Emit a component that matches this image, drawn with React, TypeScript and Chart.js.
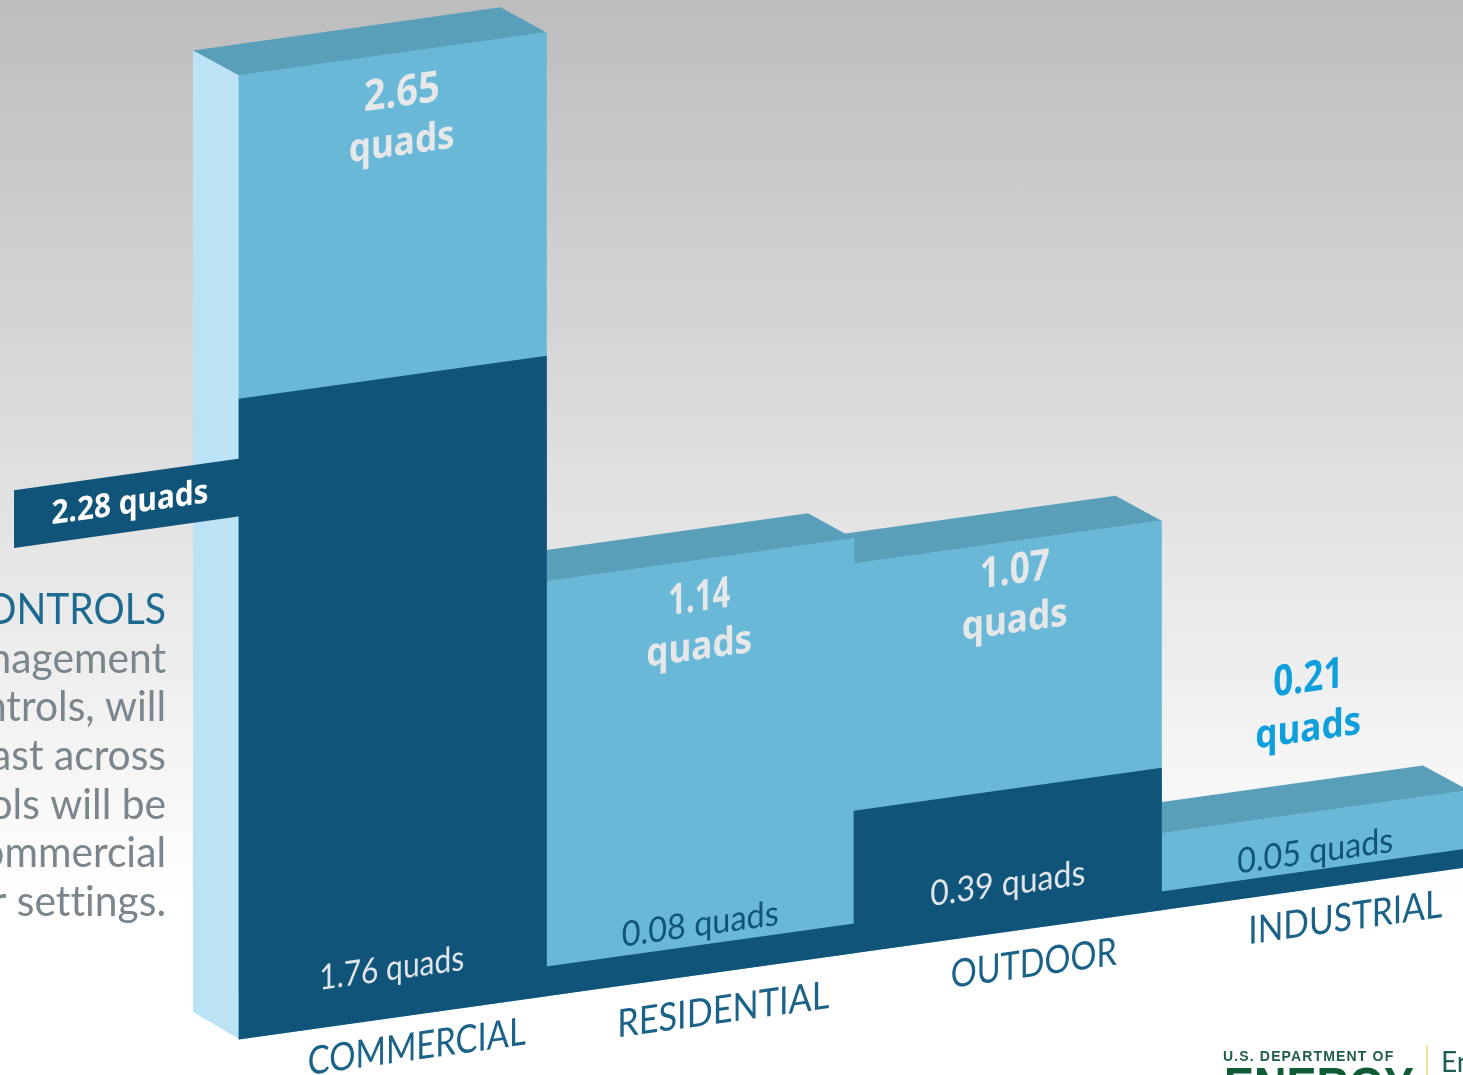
import React, { useEffect, useRef } from "react";
import { Chart, registerables } from "chart.js";

Chart.register(...registerables);

// ---- data ----
const categories = ["COMMERCIAL", "RESIDENTIAL", "OUTDOOR", "INDUSTRIAL"];
const totalQuads = [2.65, 1.14, 1.07, 0.21];
const partQuads = [1.76, 0.08, 0.39, 0.05];
const calloutQuads = 2.28;
const headingLine = "CONTROLS";
const bodyLines = ["management", "controls, will", "forecast across", "tools will be", "commercial", "outdoor settings."];

// ---- style / layout ----
const DARK = "#10547a";
const LIGHT = "#69b8d8";
const TOPFACE = "#5a9fb9";
const SIDE = "#bbe3f5";
const SHEAR = -0.14;
const ORIGIN_X = 239;
const W = 1500;
const H = 1075;
const DEPTH_X = -46;
const DEPTH_TOP = -31.5;
const DEPTH_BOTTOM = -33.5;
// per-bar tweaks, [dx, dy1, dy2, maxWidth of value]
const topLabelLayout = [
  [9, 41, 91, 76],
  [-1, 38.5, 88, 62],
  [7, 30, 80, 70],
  [-7, -133.5, -83, 70],
];
const partLabelLayout = [
  [-1, -49, 145, "#dfe5ea"],
  [0, -50, 157, DARK],
  [0, -47.5, 155, "#dfe5ea"],
  [0, -37, 156, DARK],
];
const axisLabelLayout = [
  [24, 33, 218],
  [23, 39, 212],
  [26, 36, 166],
  [30, 34, 194],
];

const skewPlugin = {
  id: "skew3d",
  beforeDraw(chart: any) {
    const ctx = chart.ctx;
    ctx.save();
    ctx.textBaseline = "middle";
    ctx.textAlign = "right";
    (ctx as any).textRendering = "optimizeSpeed";
    ctx.fillStyle = "#1d6a90";
    ctx.font = '400 42px Lato';
    ctx.fillText(headingLine, 166, 610, ctx.measureText(headingLine).width * 0.93);
    ctx.fillStyle = "#7b868c";
    ctx.font = '400 42px Lato';
    bodyLines.forEach((t, i) => ctx.fillText(t, 166, 659 + i * 48.7, ctx.measureText(t).width * 0.97));
    ctx.restore();
  },
  beforeDatasetsDraw(chart: any) {
    const ctx = chart.ctx;
    const xs = chart.scales.x;
    const ys = chart.scales.y;
    ctx.save();
    ctx.transform(1, SHEAR, 0, 1, 0, -SHEAR * ORIGIN_X);
    const half = (xs.getPixelForValue(1) - xs.getPixelForValue(0)) / 2;
    // top faces, back to front (right to left)
    for (let i = categories.length - 1; i >= 0; i--) {
      const c = xs.getPixelForValue(i);
      const t = ys.getPixelForValue(totalQuads[i]);
      ctx.fillStyle = TOPFACE;
      ctx.beginPath();
      ctx.moveTo(c - half, t);
      ctx.lineTo(c + half, t);
      ctx.lineTo(c + half + DEPTH_X, t + DEPTH_TOP);
      ctx.lineTo(c - half + DEPTH_X, t + DEPTH_TOP);
      ctx.closePath();
      ctx.fill();
    }
    // side face of first bar
    const c0 = xs.getPixelForValue(0) - half;
    const t0 = ys.getPixelForValue(totalQuads[0]);
    const b0 = ys.getPixelForValue(0);
    ctx.fillStyle = SIDE;
    ctx.beginPath();
    ctx.moveTo(c0, t0);
    ctx.lineTo(c0 + DEPTH_X, t0 + DEPTH_TOP);
    ctx.lineTo(c0 + DEPTH_X, b0 + DEPTH_BOTTOM);
    ctx.lineTo(c0, b0);
    ctx.closePath();
    ctx.fill();
  },
  afterDatasetsDraw(chart: any) {
    const ctx = chart.ctx;
    const xs = chart.scales.x;
    const ys = chart.scales.y;
    const half = (xs.getPixelForValue(1) - xs.getPixelForValue(0)) / 2;
    ctx.textAlign = "center";
    ctx.textBaseline = "middle";
    categories.forEach((name, i) => {
      const c = xs.getPixelForValue(i);
      const t = ys.getPixelForValue(totalQuads[i]);
      const b = ys.getPixelForValue(0);
      const [dx, d1, d2, mw] = topLabelLayout[i];
      ctx.font = '700 43px "Noto Sans"';
      ctx.fillStyle = i === 3 ? "#0f9fdc" : "#e6e7e8";
      ctx.fillText(totalQuads[i].toFixed(2), c + dx, t + d1, mw);
      ctx.font = '700 39px "Noto Sans"';
      ctx.fillText("quads", c + dx, t + d2, 106);
      const [pdx, pd, pw, pc] = partLabelLayout[i] as [number, number, number, string];
      ctx.font = '400 35px Lato';
      ctx.fillStyle = pc;
      ctx.fillText(partQuads[i].toFixed(2) + " quads", c + pdx, b + pd, pw);
      const [adx, ad, aw] = axisLabelLayout[i];
      ctx.font = '400 39px Lato';
      ctx.fillStyle = "#1a6288";
      ctx.fillText(name, c + adx, b + ad, aw);
    });
    // callout ribbon
    const left = 14;
    const right = xs.getPixelForValue(0) - half + 1;
    const rt = ys.getPixelForValue(1.596);
    const rb = ys.getPixelForValue(1.437);
    ctx.fillStyle = DARK;
    ctx.fillRect(left, rt, right - left, rb - rt);
    ctx.font = '700 33px "Noto Sans"';
    ctx.fillStyle = "#ffffff";
    ctx.fillText(calloutQuads.toFixed(2) + " quads", 130, (rt + rb) / 2 + 1, 157);
    ctx.restore();

    // logo
    ctx.save();
    ctx.textAlign = "left";
    ctx.textBaseline = "alphabetic";
    ctx.fillStyle = "#1f5d45";
    ctx.font = '700 14px "Liberation Sans"';
    (ctx as any).letterSpacing = "1.15px";
    ctx.fillText("U.S. DEPARTMENT OF", 1223, 1061);
    (ctx as any).letterSpacing = "0px";
    ctx.font = '700 50px "Liberation Sans"';
    ctx.fillStyle = "#0f5c36";
    ctx.fillText("ENERGY", 1224, 1103, 190);
    ctx.fillStyle = "#efe39f";
    ctx.fillRect(1426, 1045, 2, 30);
    ctx.fillStyle = "#1f5d55";
    ctx.font = '400 28px Lato';
    ctx.fillText("Energy", 1441, 1072);
    ctx.restore();
  },
};

export default function App() {
  const ref = useRef<HTMLCanvasElement | null>(null);
  useEffect(() => {
    const chart = new Chart(ref.current as HTMLCanvasElement, {
      type: "bar",
      data: {
        labels: categories,
        datasets: [
          { label: "Part", data: partQuads, backgroundColor: DARK, borderWidth: 0, clip: false as any },
          { label: "Total", data: totalQuads, backgroundColor: LIGHT, borderWidth: 0, clip: false as any },
        ],
      },
      options: {
        responsive: false,
        devicePixelRatio: 1,
        animation: false,
        layout: { padding: { left: 239, right: 31, top: 20.9, bottom: 36 } },
        datasets: { bar: { barPercentage: 1, categoryPercentage: 1 } },
        plugins: { legend: { display: false }, tooltip: { enabled: false } },
        scales: {
          x: { stacked: true, display: false, grid: { display: false } },
          y: { stacked: false, display: false, min: 0, max: 2.8, grid: { display: false } },
        },
      },
      plugins: [skewPlugin],
    } as any);
    return () => chart.destroy();
  }, []);
  return (
    <div
      style={{
        position: "fixed",
        left: 0,
        top: 0,
        width: 1463,
        height: 1075,
        overflow: "hidden",
        background: "linear-gradient(to bottom, #bdbdbd 0px, #ffffff 900px)",
      }}
    >
      <canvas ref={ref} width={W} height={H} style={{ display: "block" }} />
    </div>
  );
}
